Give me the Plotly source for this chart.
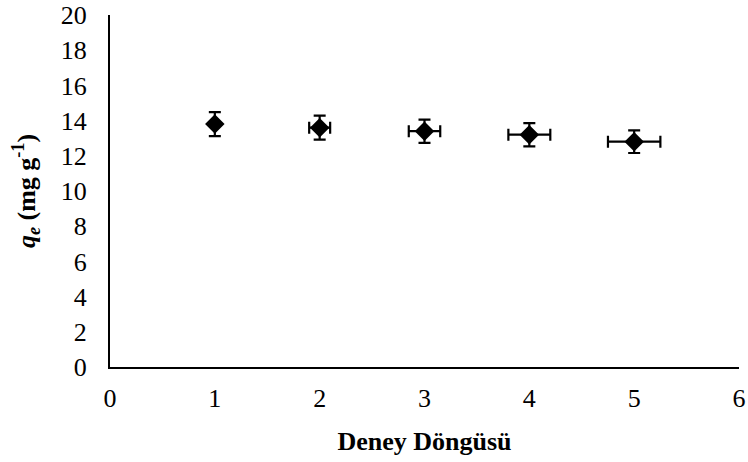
import plotly.graph_objects as go

cycles = [1, 2, 3, 4, 5]
qe = [13.8, 13.6, 13.4, 13.2, 12.8]
qe_err = [0.68, 0.68, 0.66, 0.66, 0.64]
cycle_err = [0.0, 0.1, 0.15, 0.2, 0.25]

fig = go.Figure()
fig.add_trace(go.Scatter(
    x=cycles, y=qe, mode="markers",
    marker=dict(symbol="diamond", size=15, color="black"),
    error_y=dict(type="data", array=qe_err, color="black", thickness=2.2, width=6),
    error_x=dict(type="data", array=cycle_err, color="black", thickness=2.2, width=6),
    showlegend=False,
))

font = dict(family="Liberation Serif, Times New Roman, serif", size=26, color="black")
fig.update_layout(
    width=748, height=462,
    margin=dict(l=110, r=9, t=15, b=95),
    plot_bgcolor="white", paper_bgcolor="white",
    font=font,
    xaxis=dict(range=[0, 6], dtick=1, showline=True, linecolor="black", linewidth=2,
               showgrid=False, zeroline=False, ticks="", ticklen=0, automargin=False,
               tickfont=font, ticklabelstandoff=7,
               title=dict(text="<b>Deney Döngüsü</b>", font=font, standoff=20)),
    yaxis=dict(range=[0, 20], dtick=2, showline=True, linecolor="black", linewidth=2,
               showgrid=False, zeroline=False, ticks="", ticklen=0, automargin=False,
               tickfont=font, ticklabelstandoff=16,
               title=dict(text="<b><i>q</i><sub><i>e</i></sub> (mg g<sup>-1</sup>)</b>", font=font, standoff=18)),
)
fig.write_html("out.html", config={"displayModeBar": False},
               post_script="document.body.style.margin='0';document.body.style.overflow='hidden';")
